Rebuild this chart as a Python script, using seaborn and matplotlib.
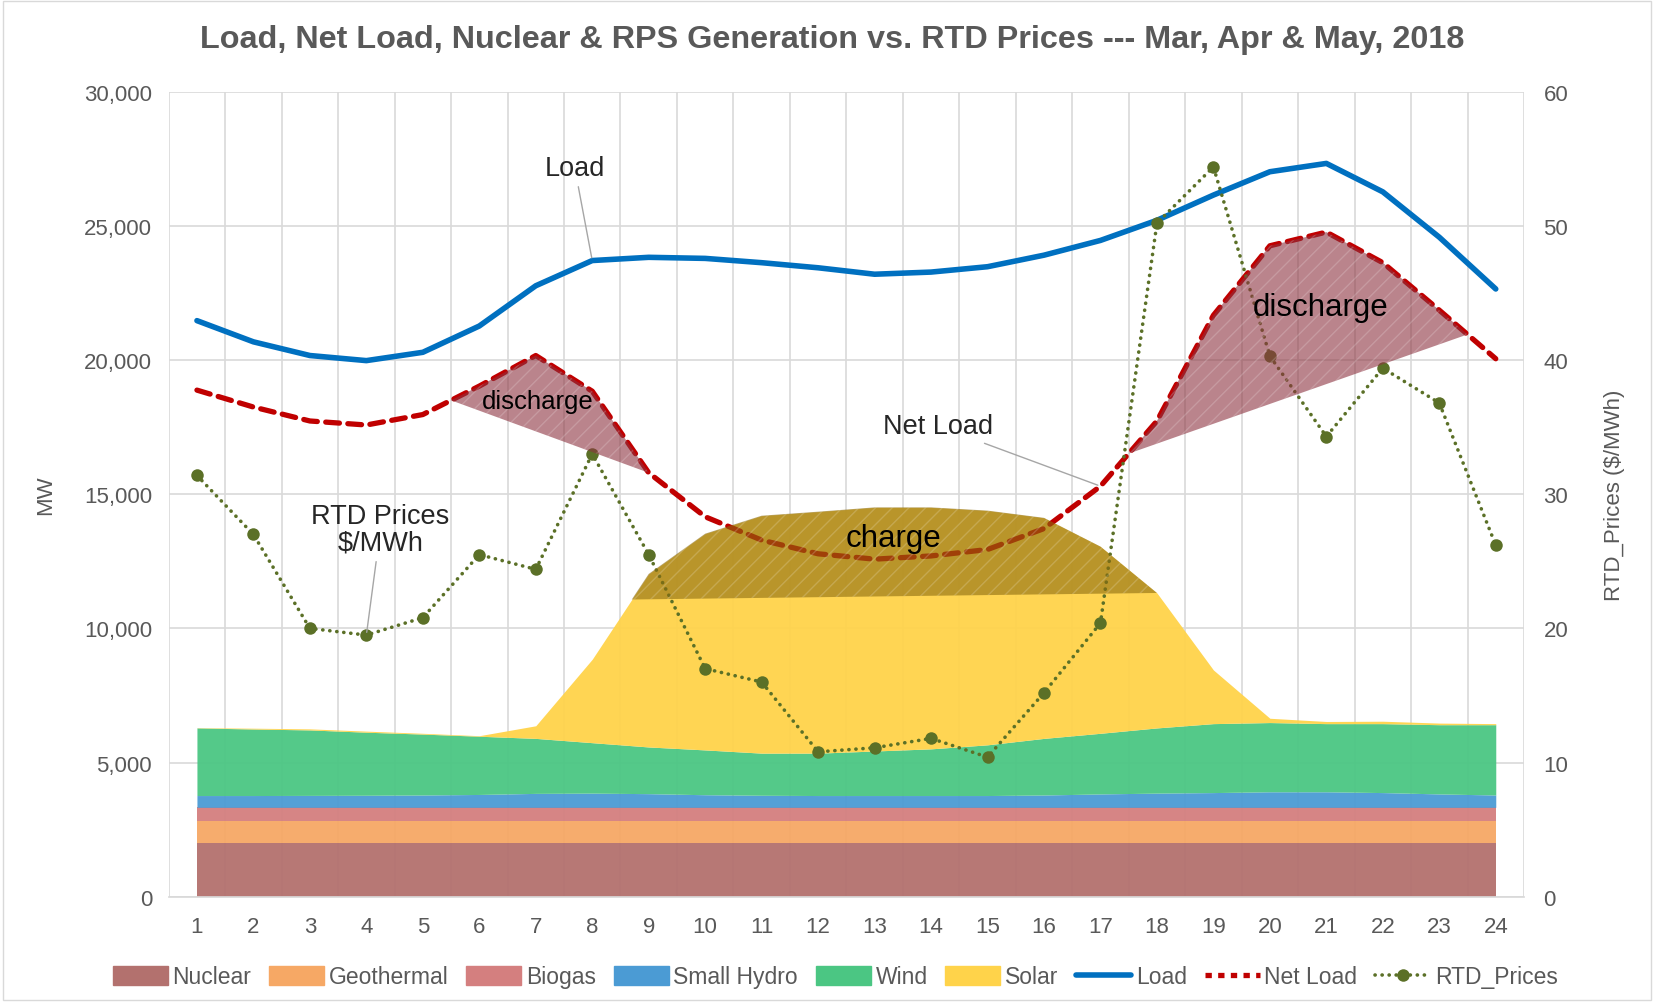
import numpy as np
import pandas as pd
import seaborn as sns
import matplotlib.pyplot as plt
from matplotlib.patches import Patch, Polygon, Rectangle
from matplotlib.lines import Line2D
from matplotlib.ticker import FuncFormatter

hours = list(range(1, 25))

# MW by hour (stacked generation)
nuclear = [1990, 1990, 1990, 1990, 1990, 1990, 1990, 1990, 1990, 1990, 1990, 1990,
           1990, 1990, 1990, 1990, 1990, 1990, 1990, 1990, 1990, 1990, 1990, 1990]
geothermal = [840, 840, 840, 840, 840, 840, 840, 840, 840, 840, 840, 840,
              840, 840, 840, 840, 840, 840, 840, 840, 840, 840, 840, 840]
biogas = [500, 500, 500, 500, 500, 500, 500, 500, 500, 500, 500, 500,
          500, 500, 500, 500, 500, 500, 500, 500, 500, 500, 500, 500]
small_hydro = [440, 440, 445, 450, 460, 480, 520, 530, 510, 470, 450, 440,
               440, 440, 440, 460, 500, 530, 550, 580, 580, 550, 500, 460]
wind = [2520, 2480, 2440, 2350, 2270, 2170, 2050, 1880, 1740, 1670, 1570, 1580,
        1660, 1740, 1890, 2110, 2260, 2430, 2570, 2580, 2540, 2570, 2580, 2620]
solar = [10, 30, 40, 40, 30, 20, 470, 3110, 6450, 8060, 8850, 9000,
         9080, 9000, 8730, 8220, 6960, 5030, 2000, 160, 80, 90, 60, 40]

load = [21470, 20680, 20170, 19980, 20290, 21270, 22770, 23710, 23830, 23790, 23630, 23440,
        23200, 23280, 23480, 23910, 24460, 25210, 26150, 27020, 27330, 26270, 24580, 22650]
net_load = [18880, 18250, 17730, 17580, 17970, 19030, 20170, 18840, 15800, 14160, 13290, 12780,
            12580, 12700, 12940, 13720, 15300, 17730, 21670, 24260, 24770, 23630, 21860, 20050]
rtd_prices = [31.4, 27.0, 20.0, 19.5, 20.8, 25.5, 24.4, 33.0, 25.5, 17.0, 16.0, 10.8,
              11.1, 11.8, 10.4, 15.2, 20.4, 50.2, 54.4, 40.3, 34.3, 39.4, 36.8, 26.2]

series_names = ["Nuclear", "Geothermal", "Biogas", "Small Hydro", "Wind", "Solar"]
area_colors = ["#b3716e", "#f6a865", "#d47f7f", "#4b9bd4", "#4bc683", "#ffd34a"]

# hour spans of the shaded storage regions
discharge1_span = (5.5, 9)
discharge2_span = (17.5, 23.5)
charge_span = (8.7, 18)

df = pd.DataFrame({"Hour": hours, "Load": load, "Net Load": net_load, "RTD_Prices": rtd_prices})

sns.set_theme(style="white")
plt.rcParams["font.family"] = ["Liberation Sans", "DejaVu Sans"]
txt = "#595959"
grid_c = "#d9d9d9"

fig = plt.figure(figsize=(16.54, 10.03), dpi=100)
ax = fig.add_axes([0.102, 0.105, 0.8194, 0.8025])
ax2 = ax.twinx()

stack = np.vstack([nuclear, geothermal, biogas, small_hydro, wind, solar])
ax.stackplot(hours, stack, colors=area_colors, alpha=0.95, lw=0, zorder=2)

sns.lineplot(data=df, x="Hour", y="Load", ax=ax, color="#0070c0", lw=4, zorder=4)
sns.lineplot(data=df, x="Hour", y="Net Load", ax=ax, color="#c00000", lw=3.8,
             linestyle=(0, (2.6, 1.6)), dash_capstyle="round", zorder=4)
sns.lineplot(data=df, x="Hour", y="RTD_Prices", ax=ax2, color="#5b7027", lw=2.6,
             linestyle=(0, (0.05, 1.9)), dash_capstyle="round",
             marker="o", markersize=9, markeredgewidth=0, zorder=3)


def region(curve, span):
    xs = [span[0]] + [h for h in hours if span[0] < h < span[1]] + [span[1]]
    ys = np.interp(xs, hours, curve)
    return list(zip(xs, ys))


solar_top = np.sum(stack, axis=0)
regions = [
    (region(net_load, discharge1_span), (0.55, 0.2, 0.25, 0.6)),
    (region(net_load, discharge2_span), (0.55, 0.2, 0.25, 0.6)),
    (region(solar_top, charge_span), (0.545, 0.42, 0.06, 0.6)),
]
for pts, fc in regions:
    ax2.add_patch(Polygon(pts, closed=True, facecolor=fc, edgecolor=(1, 1, 1, 0.18),
                          lw=0, hatch="//", transform=ax.transData, zorder=5))

ax2.text(7.04, 18480, "discharge", transform=ax.transData, fontsize=18.5, ha="center",
         va="center", color="black", zorder=6)
ax2.text(20.89, 21980, "discharge", transform=ax.transData, fontsize=22.5, ha="center",
         va="center", color="black", zorder=6)
ax2.text(13.34, 13370, "charge", transform=ax.transData, fontsize=22.5, ha="center",
         va="center", color="black", zorder=6)

arrow = dict(arrowstyle="-", color="#a6a6a6", lw=1)
ax.annotate("Load", xy=(8, load[7]), xytext=(7.69, 27170), fontsize=19.5, color="#262626",
            ha="center", va="center", arrowprops=arrow, zorder=6)
ax.annotate("Net Load", xy=(17, net_load[16]), xytext=(14.12, 17540), fontsize=19.5,
            color="#262626", ha="center", va="center", arrowprops=arrow, zorder=6)
ax2.annotate("RTD Prices\n$/MWh", xy=(4, rtd_prices[3]), xytext=(4.25, 27.4), fontsize=19.5,
             color="#262626", ha="center", va="center", linespacing=1.05,
             arrowprops=arrow, zorder=6)

ax.set_xlim(0.5, 24.5)
ax.set_ylim(0, 30000)
ax2.set_ylim(0, 60)
ax.set_xticks(hours)
ax.set_xticks(np.arange(0.5, 25, 1), minor=True)
ax.set_yticks(range(0, 30001, 5000))
ax2.set_yticks(range(0, 61, 10))
ax.yaxis.set_major_formatter(FuncFormatter(lambda v, p: f"{int(v):,}"))

ax.grid(False)
ax2.grid(False)
ax.grid(which="minor", axis="x", color=grid_c, lw=1.2)
ax.grid(which="major", axis="y", color=grid_c, lw=1.2)
ax.set_axisbelow(True)

for a in (ax, ax2):
    for s in a.spines.values():
        s.set_visible(False)
ax.spines["bottom"].set_visible(True)
ax.spines["bottom"].set_color(grid_c)

ax.tick_params(axis="x", which="both", length=0, pad=14, labelsize=16, labelcolor=txt)
ax.tick_params(axis="y", length=0, pad=12, labelsize=16, labelcolor=txt)
ax2.tick_params(axis="y", length=0, pad=14, labelsize=16, labelcolor=txt)

ax.set_xlabel("")
ax.set_ylabel("MW", fontsize=16, color=txt, labelpad=20)
ax2.set_ylabel("RTD_Prices ($/MWh)", fontsize=16, color=txt, labelpad=26)

fig.text(0.503, 0.96,
         "Load, Net Load, Nuclear & RPS Generation vs. RTD Prices --- Mar, Apr & May, 2018",
         ha="center", va="center", fontsize=23.3, fontweight="bold", color=txt)

handles = [Patch(color=c, label=n) for c, n in zip(area_colors, series_names)]
handles += [
    Line2D([], [], color="#0070c0", lw=4, label="Load"),
    Line2D([], [], color="#c00000", lw=3.8, linestyle=(0, (1.2, 1.2)), label="Net Load"),
    Line2D([], [], color="#5b7027", lw=2.6, linestyle=(0, (0.05, 1.9)),
           dash_capstyle="round", marker="o", markersize=9, markeredgewidth=0,
           label="RTD_Prices"),
]
fig.legend(handles=handles, loc="center", bbox_to_anchor=(0.505, 0.025), ncol=9,
           frameon=False, fontsize=16.5, labelcolor=txt, handlelength=2.4, handleheight=0.85,
           columnspacing=0.78, handletextpad=0.2)

fig.add_artist(Rectangle((0.002, 0.002), 0.996, 0.996, transform=fig.transFigure,
                         fill=False, edgecolor=grid_c, lw=1))

fig.savefig("out.png", dpi=100)
plt.close(fig)
